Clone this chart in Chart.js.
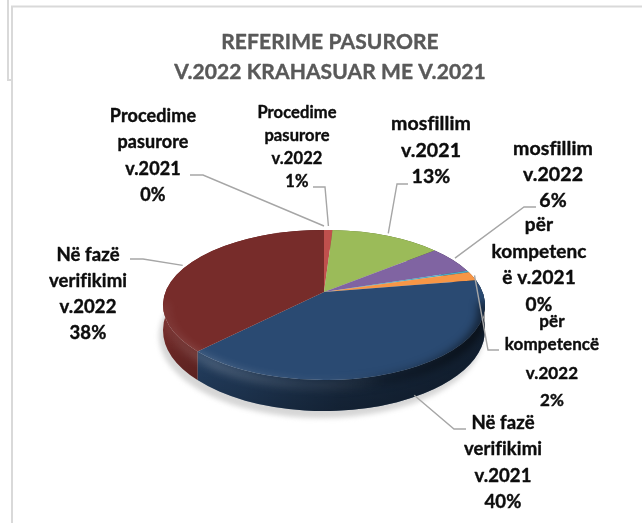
<!DOCTYPE html>
<html>
<head>
<meta charset="utf-8">
<title>Referime pasurore</title>
<script src="https://cdn.jsdelivr.net/npm/chart.js@4"></script>
<style>
  html, body { margin: 0; padding: 0; background: #fff; }
  canvas { display: block; }
</style>
</head>
<body>
<canvas id="pieChart" width="642" height="523"></canvas>
<script>
const chartTitle = ["REFERIME PASURORE", "V.2022 KRAHASUAR ME V.2021"];
const categories = [
  "Procedime pasurore v.2021",
  "Procedime pasurore v.2022",
  "mosfillim v.2021",
  "mosfillim v.2022",
  "për kompetencë v.2021",
  "për kompetencë v.2022",
  "Në fazë verifikimi v.2021",
  "Në fazë verifikimi v.2022"
];
const shares = [0, 1, 13, 6, 0.4, 2, 40, 38];
const sliceColors = ["#4F81BD", "#C0504D", "#9BBB59", "#8064A2", "#4BACC6", "#F79646", "#2A4A72", "#772C2A"];

// how the labels wrap in the picture (the percent line is added from the data)
const wrappedNames = [
  ["Procedime", "pasurore", "v.2021"],
  ["Procedime", "pasurore", "v.2022"],
  ["mosfillim", "v.2021"],
  ["mosfillim", "v.2022"],
  ["për", "kompetenc", "ë v.2021"],
  ["për", "kompetencë", "v.2022"],
  ["Në fazë", "verifikimi", "v.2021"],
  ["Në fazë", "verifikimi", "v.2022"]
];
const labelCenters = [153, 297, 431, 553, 539, 552, 503, 88];
const labelFirstY = [116, 113, 124, 149, 225, 322, 423, 255];
const labelSteps = [26.5, 23, 26.5, 26, 26.5, [23, 29, 27], 26.5, 26];
const labelFonts = [18, 16.5, 19.5, 19.5, 19, 17, 18.5, 18.5];
// leader line: [text end x, text end y, bend x, how far past the rim, drop to the lower rim]
const leaders = [
  [190, 175, 203, 4, 0],
  [313, 187, 325, 4, 0],
  [408, 184, 397, 3, 0],
  [536, 207, 524, 3, 0],
  [499, 350, 488, 2, 0],
  [466, 429, 454, 2, 26],
  [130, 259, 143, 3, 0]
];
const leaderSlices = [0, 1, 2, 3, 5, 6, 7];

const FONT = "Lato, Carlito, 'Open Sans', sans-serif";
const TILT = 0.45;
const FACE_RY = 0.466, FACE_SHIFT = 0.081;
const BASE_RY = 0.503, BASE_SHIFT = 0.236;

// where a slice edge meets the rim: the apex is off the centre of the ellipse
const rimParam = (arc, angle) => {
  const r = arc.outerRadius, ry = r * FACE_RY, d = r * FACE_SHIFT;
  const dx = Math.cos(angle), dy = TILT * Math.sin(angle);
  const a = dx * dx / (r * r) + dy * dy / (ry * ry);
  const b = -2 * dy * d / (ry * ry);
  const c = d * d / (ry * ry) - 1;
  const t = (-b + Math.sqrt(b * b - 4 * a * c)) / (2 * a);
  return Math.atan2((t * dy - d) / ry, t * dx / r);
};

// heavier than Lato's own bold, closer to the picture
const boldText = (ctx, text, x, y) => {
  ctx.fillText(text, x, y);
  ctx.strokeText(text, x, y);
};

const pie3d = {
  id: "pie3d",
  beforeDatasetsDraw(chart) {
    const ctx = chart.ctx;
    const arcs = chart.getDatasetMeta(0).data;
    const first = arcs[0];
    const cx = first.x, r = first.outerRadius;
    const faceY = first.y + r * FACE_SHIFT, faceRy = r * FACE_RY;
    const baseY = first.y + r * BASE_SHIFT, baseRy = r * BASE_RY;

    // soft shadow on the page
    ctx.save();
    ctx.filter = "blur(2.5px)";
    ctx.fillStyle = "#d6d6d6";
    ctx.beginPath();
    ctx.ellipse(cx - 3, baseY + 6, r + 1, baseRy + 1, 0, 0, Math.PI * 2);
    ctx.fill();
    ctx.restore();

    // side wall
    const shade = ctx.createLinearGradient(cx - r, 0, cx + r, 0);
    shade.addColorStop(0, "rgba(0,0,0,0)");
    shade.addColorStop(0.25, "rgba(0,0,0,0.12)");
    shade.addColorStop(0.55, "rgba(0,0,0,0.36)");
    shade.addColorStop(0.85, "rgba(0,0,0,0.48)");
    shade.addColorStop(1, "rgba(0,0,0,0.55)");
    const fall = ctx.createLinearGradient(0, faceY + 10, 0, baseY + baseRy);
    fall.addColorStop(0, "rgba(0,0,0,0)");
    fall.addColorStop(1, "rgba(0,0,0,0.3)");
    arcs.forEach((arc, i) => {
      if (arc.endAngle - arc.startAngle <= 0) return;
      const t0 = rimParam(arc, arc.startAngle), t1 = rimParam(arc, arc.endAngle);
      ctx.beginPath();
      ctx.ellipse(cx, faceY, r, faceRy, 0, t0, t1);
      ctx.ellipse(cx, baseY, r, baseRy, 0, t1, t0, true);
      ctx.closePath();
      ctx.fillStyle = sliceColors[i];
      ctx.fill();
      ctx.fillStyle = shade;
      ctx.fill();
      ctx.fillStyle = fall;
      ctx.fill();
    });

    // top face
    arcs.forEach((arc, i) => {
      if (arc.endAngle - arc.startAngle <= 0) return;
      ctx.beginPath();
      ctx.moveTo(arc.x, arc.y);
      ctx.ellipse(cx, faceY, r, faceRy, 0, rimParam(arc, arc.startAngle), rimParam(arc, arc.endAngle));
      ctx.closePath();
      ctx.fillStyle = sliceColors[i];
      ctx.fill();
    });

    // bevel along the front of the rim
    ctx.save();
    ctx.beginPath();
    ctx.ellipse(cx, faceY, r, faceRy, 0, 0, Math.PI);
    ctx.ellipse(cx, baseY, r, baseRy, 0, Math.PI, 0, true);
    ctx.closePath();
    ctx.ellipse(cx, faceY, r, faceRy, 0, 0, Math.PI * 2);
    ctx.clip();
    const shine = ctx.createLinearGradient(cx - r, 0, cx + r, 0);
    shine.addColorStop(0, "rgba(255,255,255,0.05)");
    shine.addColorStop(0.16, "rgba(255,255,255,0.2)");
    shine.addColorStop(0.45, "rgba(255,255,255,0.08)");
    shine.addColorStop(0.68, "rgba(0,0,0,0.2)");
    shine.addColorStop(1, "rgba(0,0,0,0.6)");
    ctx.filter = "blur(4px)";
    ctx.strokeStyle = shine;
    ctx.lineWidth = 9;
    ctx.beginPath();
    ctx.ellipse(cx, faceY + 5, r - 2, faceRy, 0, -0.1, Math.PI + 0.1);
    ctx.stroke();
    ctx.restore();

    return false; // the arcs are painted above, in perspective
  },
  afterDraw(chart) {
    const ctx = chart.ctx;
    const arcs = chart.getDatasetMeta(0).data;
    const total = shares.reduce((a, b) => a + b, 0);

    // chart frame, and the edge of the frame behind it
    ctx.strokeStyle = "#d9d9d9";
    ctx.lineWidth = 2;
    ctx.beginPath();
    ctx.moveTo(8, 0); ctx.lineTo(8, 80); ctx.lineTo(12, 80);
    ctx.stroke();
    ctx.beginPath();
    ctx.moveTo(12, 523); ctx.lineTo(12, 6.5); ctx.lineTo(642, 6.5);
    ctx.stroke();

    // leader lines
    ctx.strokeStyle = "#a6a6a6";
    ctx.lineWidth = 1.4;
    leaders.forEach((l, n) => {
      const arc = arcs[leaderSlices[n]];
      const mid = (arc.startAngle + arc.endAngle) / 2;
      const t = rimParam(arc, mid), r = arc.outerRadius;
      const s = l[3];
      const x = arc.x + (r + s) * Math.cos(t);
      const y = arc.y + r * FACE_SHIFT + (r * FACE_RY + s) * Math.sin(t) + l[4];
      ctx.beginPath();
      ctx.moveTo(l[0], l[1]);
      ctx.lineTo(l[2], l[1]);
      ctx.lineTo(x, y);
      ctx.stroke();
    });

    // title
    ctx.textAlign = "center";
    ctx.textBaseline = "middle";
    ctx.letterSpacing = "0.1px"; // also turns off the fi ligature
    ctx.lineJoin = "round";
    ctx.lineWidth = 0.4;
    ctx.fillStyle = "#595959";
    ctx.strokeStyle = "#595959";
    ctx.font = "bold 21px " + FONT;
    chartTitle.forEach((line, i) => boldText(ctx, line, 330, 42 + i * 30));

    // data labels
    ctx.fillStyle = "#0d0d0d";
    ctx.strokeStyle = "#0d0d0d";
    categories.forEach((name, i) => {
      const lines = wrappedNames[i].concat(Math.round(shares[i] / total * 100) + "%");
      ctx.font = "bold " + labelFonts[i] + "px " + FONT;
      let y = labelFirstY[i];
      lines.forEach((line, k) => {
        boldText(ctx, line, labelCenters[i], y);
        const step = labelSteps[i];
        y += Array.isArray(step) ? step[k] : step;
      });
    });
  }
};

new Chart(document.getElementById("pieChart"), {
  type: "pie",
  data: {
    labels: categories,
    datasets: [{ data: shares, backgroundColor: sliceColors, borderWidth: 0 }]
  },
  options: {
    responsive: false,
    animation: false,
    layout: { padding: { left: 163, right: 157, top: 131, bottom: 70 } },
    plugins: { legend: { display: false }, title: { display: false }, tooltip: { enabled: false } }
  },
  plugins: [pie3d]
});
</script>
</body>
</html>
